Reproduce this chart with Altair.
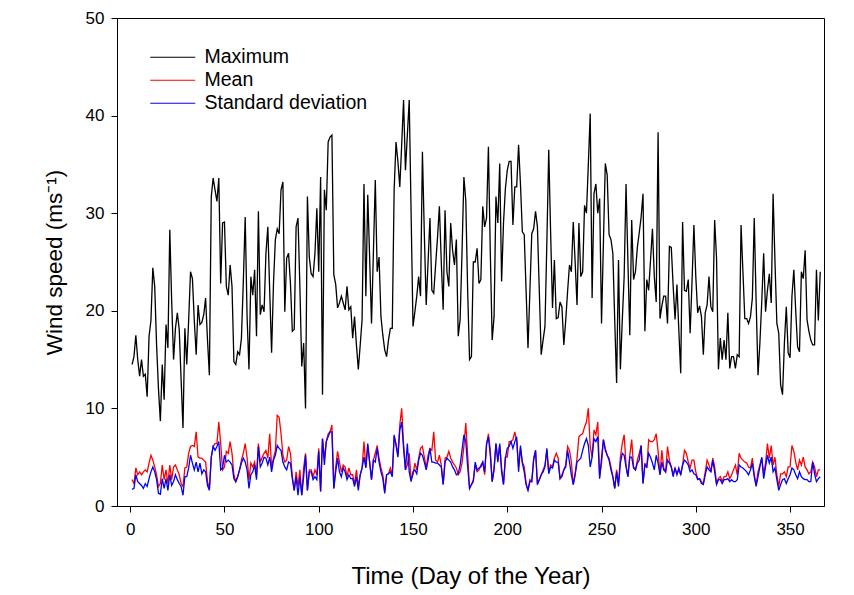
import altair as alt
import pandas as pd

days = list(range(1, 367))

maximum = [
    14.5, 15.3, 17.5, 15.0, 13.3, 15.0, 13.3, 13.5, 11.2, 17.4,
    19.0, 24.4, 22.5, 16.5, 12.0, 8.7, 14.5, 10.9, 18.6, 16.2,
    28.3, 21.0, 15.0, 18.2, 19.8, 18.1, 13.0, 8.0, 18.2, 14.5,
    19.0, 24.0, 23.3, 19.0, 15.5, 20.6, 18.6, 18.8, 19.6, 21.3,
    17.0, 13.4, 31.7, 33.6, 32.4, 31.2, 33.6, 22.8, 29.0, 29.1,
    22.5, 21.6, 24.7, 22.5, 14.8, 14.5, 15.8, 15.5, 17.2, 23.0,
    29.6, 19.4, 14.0, 23.5, 21.6, 24.2, 17.4, 30.2, 19.6, 20.6,
    19.9, 25.9, 28.6, 22.0, 15.7, 22.8, 27.3, 28.4, 27.9, 32.4,
    33.2, 19.9, 25.4, 25.9, 22.8, 17.9, 18.1, 28.6, 29.5, 22.5,
    14.3, 16.7, 10.0, 31.7, 25.5, 23.8, 23.5, 25.9, 30.5, 24.0,
    33.7, 11.4, 32.4, 30.3, 37.3, 37.8, 38.0, 23.7, 22.7, 20.3,
    20.8, 21.5, 20.8, 20.1, 22.5, 20.1, 20.4, 17.2, 19.4, 16.5,
    14.0, 16.5, 19.1, 33.0, 21.5, 31.9, 25.5, 18.7, 26.0, 33.4,
    24.0, 25.5, 19.4, 17.5, 16.0, 15.3, 17.0, 18.2, 18.2, 32.4,
    37.3, 35.3, 32.7, 37.0, 41.6, 34.4, 38.0, 41.6, 30.0, 18.4,
    19.9, 21.5, 23.5, 21.5, 36.3, 28.0, 20.6, 25.0, 29.5, 22.1,
    21.8, 24.7, 27.5, 30.7, 25.0, 20.1, 30.3, 24.0, 22.5, 29.0,
    26.2, 24.7, 27.3, 17.4, 19.1, 26.0, 33.7, 31.3, 22.0, 15.0,
    15.3, 25.0, 25.0, 26.4, 22.8, 23.2, 30.7, 28.6, 29.5, 36.8,
    26.0, 17.0, 19.4, 31.7, 29.0, 35.1, 23.0, 29.0, 32.5, 34.4,
    35.3, 35.3, 28.8, 32.7, 32.7, 37.0, 33.0, 28.1, 27.8, 22.0,
    16.2, 22.0, 27.9, 28.4, 30.2, 28.6, 22.0, 15.5, 17.0, 18.4,
    27.0, 36.5, 28.0, 20.3, 25.2, 19.2, 19.3, 20.9, 20.4, 16.5,
    19.0, 22.0, 24.7, 24.0, 29.1, 25.0, 20.6, 29.0, 23.5, 24.0,
    30.8, 30.0, 35.0, 40.2, 21.3, 32.0, 33.0, 30.0, 31.5, 18.7,
    27.0, 35.1, 33.9, 27.8, 27.3, 25.9, 19.0, 12.6, 25.2, 14.0,
    19.0, 23.5, 33.0, 25.0, 17.5, 29.3, 23.2, 24.0, 26.5, 28.0,
    29.6, 32.0, 17.9, 23.2, 22.1, 25.2, 28.4, 23.5, 20.9, 38.3,
    19.2, 20.5, 21.5, 21.5, 18.7, 26.6, 26.5, 22.5, 19.1, 22.7,
    18.0, 13.6, 29.1, 22.1, 22.0, 23.2, 17.7, 23.0, 28.8, 23.5,
    19.8, 20.5, 19.4, 15.5, 19.8, 20.6, 23.5, 20.4, 19.9, 29.3,
    25.4, 14.0, 17.2, 15.0, 17.0, 15.0, 19.8, 14.1, 15.3, 15.3,
    14.1, 15.5, 15.3, 28.8, 24.0, 19.2, 19.2, 18.7, 19.4, 21.3,
    29.5, 21.0, 13.4, 16.7, 21.0, 25.9, 19.9, 22.1, 23.8, 20.8,
    32.0, 25.0, 18.7, 17.7, 12.4, 11.4, 16.7, 20.4, 15.7, 15.2,
    21.5, 24.2, 20.0, 16.3, 15.8, 24.0, 23.3, 26.2, 19.1, 17.9,
    17.0, 16.5, 16.5, 24.2, 19.0, 24.0,
]

mean = [
    2.7, 2.3, 3.9, 3.2, 3.5, 3.2, 3.5, 3.7, 3.5, 4.4,
    5.2, 4.7, 4.0, 3.2, 2.0, 2.3, 4.2, 2.7, 3.7, 2.3,
    4.2, 2.7, 4.0, 4.2, 3.7, 3.2, 2.3, 2.0, 3.9, 4.0,
    5.4, 6.1, 6.2, 6.1, 7.6, 5.0, 4.9, 4.9, 4.7, 4.5,
    2.5, 1.8, 5.0, 6.1, 6.4, 6.4, 8.6, 6.4, 3.7, 4.0,
    5.6, 5.4, 6.6, 5.4, 3.2, 2.5, 3.0, 3.7, 4.7, 5.4,
    6.4, 4.9, 2.7, 4.4, 4.0, 4.5, 3.2, 6.4, 4.5, 5.0,
    5.4, 5.7, 4.9, 7.4, 4.0, 4.9, 5.7, 9.3, 9.1, 7.4,
    5.2, 4.5, 4.7, 6.1, 5.4, 3.0, 1.6, 3.5, 2.0, 3.7,
    1.1, 3.9, 5.4, 1.6, 3.7, 3.7, 3.0, 3.7, 3.2, 5.9,
    1.5, 6.9, 4.9, 6.6, 7.4, 7.6, 8.3, 1.8, 4.0, 5.6,
    4.5, 3.5, 4.2, 4.0, 3.0, 3.9, 3.2, 3.2, 2.2, 3.7,
    2.0, 3.2, 3.9, 6.6, 4.0, 6.2, 4.5, 2.7, 4.7, 5.4,
    6.2, 4.9, 3.9, 3.2, 1.5, 3.2, 3.3, 3.9, 3.2, 7.1,
    6.4, 5.2, 8.3, 10.0, 6.4, 3.7, 4.2, 5.4, 2.7, 3.2,
    4.4, 3.7, 4.9, 5.9, 6.1, 5.0, 3.9, 5.2, 5.9, 5.7,
    7.6, 4.7, 4.5, 5.2, 4.2, 2.2, 4.9, 5.0, 5.6, 4.9,
    4.5, 4.2, 3.9, 3.2, 3.5, 4.4, 6.1, 8.5, 5.2, 1.8,
    2.2, 2.7, 4.2, 3.5, 3.7, 4.2, 4.5, 3.2, 6.2, 7.4,
    5.7, 2.5, 3.9, 6.4, 4.7, 6.2, 3.9, 2.2, 5.0, 5.0,
    6.6, 6.6, 6.8, 7.6, 6.6, 4.0, 5.9, 4.5, 4.0, 2.3,
    1.6, 2.7, 2.5, 4.9, 5.7, 2.3, 2.7, 3.2, 3.7, 4.2,
    5.7, 3.5, 4.2, 4.0, 4.9, 5.4, 4.9, 2.8, 3.2, 3.7,
    4.2, 6.1, 5.7, 4.5, 2.2, 3.3, 4.9, 7.1, 7.3, 7.4,
    8.1, 8.6, 10.0, 6.1, 5.0, 7.8, 7.3, 8.6, 3.0, 4.4,
    6.8, 5.9, 5.2, 4.9, 4.0, 3.0, 1.8, 3.7, 2.3, 5.0,
    6.4, 7.3, 4.2, 3.0, 5.2, 6.8, 4.0, 3.7, 4.7, 5.4,
    6.2, 2.3, 4.4, 3.9, 6.8, 6.6, 6.6, 6.8, 7.4, 5.6,
    3.2, 5.7, 3.9, 3.5, 6.1, 4.7, 4.0, 3.2, 3.9, 3.3,
    3.7, 3.2, 4.2, 5.7, 5.4, 4.5, 3.9, 4.7, 4.7, 3.5,
    2.8, 2.8, 2.5, 2.3, 3.5, 4.7, 4.2, 3.5, 4.9, 4.0,
    2.3, 2.8, 3.0, 2.5, 3.0, 3.0, 3.5, 2.8, 3.2, 3.7,
    4.2, 3.2, 5.4, 4.9, 4.7, 4.5, 4.4, 4.0, 3.9, 4.9,
    3.2, 2.2, 3.5, 4.2, 4.9, 3.3, 4.4, 6.4, 4.9, 6.2,
    4.2, 5.0, 3.2, 2.0, 3.3, 3.3, 3.5, 3.0, 4.0, 4.0,
    6.2, 5.6, 4.5, 3.7, 4.7, 4.2, 5.0, 4.0, 3.7, 3.3,
    3.5, 4.5, 4.0, 3.0, 3.7, 3.7,
]

std_dev = [
    1.7, 1.8, 3.2, 2.5, 2.3, 2.1, 1.8, 2.3, 2.0, 2.8,
    3.5, 4.0, 3.5, 2.7, 1.3, 1.2, 2.8, 1.8, 2.8, 1.6,
    3.2, 2.1, 2.5, 3.2, 2.7, 2.3, 2.0, 1.1, 3.0, 3.0,
    3.9, 5.2, 4.4, 3.7, 4.5, 3.5, 4.4, 3.3, 3.7, 3.5,
    2.1, 1.6, 5.0, 6.1, 5.7, 6.1, 6.6, 3.7, 3.9, 5.2,
    4.5, 4.7, 4.5, 4.2, 2.8, 2.5, 3.0, 3.7, 4.4, 4.9,
    4.5, 3.7, 1.8, 3.2, 3.5, 4.2, 2.7, 6.1, 4.0, 4.4,
    5.0, 4.9, 4.2, 5.0, 3.5, 4.7, 5.2, 6.2, 5.9, 5.7,
    4.5, 4.0, 3.7, 4.5, 4.4, 2.8, 1.6, 3.0, 1.1, 3.0,
    1.1, 3.0, 5.2, 1.6, 3.5, 3.5, 2.7, 3.0, 2.7, 5.6,
    1.5, 6.9, 4.2, 6.6, 7.1, 7.6, 7.6, 1.8, 3.5, 4.9,
    3.5, 3.0, 3.9, 3.5, 2.7, 3.2, 2.8, 2.8, 2.0, 3.0,
    1.6, 3.2, 3.9, 5.0, 3.9, 6.4, 4.5, 2.7, 4.7, 4.5,
    5.9, 4.5, 3.5, 2.8, 1.3, 3.2, 3.3, 3.5, 3.0, 7.3,
    6.2, 5.0, 7.8, 8.6, 5.9, 3.7, 6.4, 3.5, 2.5, 3.5,
    3.7, 3.3, 4.7, 5.4, 5.2, 4.5, 3.7, 4.7, 5.9, 4.5,
    4.5, 4.4, 4.4, 4.2, 4.0, 2.2, 4.5, 4.9, 4.7, 4.5,
    4.0, 3.7, 3.2, 3.3, 4.2, 5.7, 7.3, 6.6, 4.0, 1.8,
    2.2, 2.5, 4.5, 3.7, 3.9, 4.0, 4.5, 3.5, 6.4, 7.1,
    5.2, 2.5, 3.7, 6.4, 4.5, 6.4, 3.5, 2.2, 4.9, 5.9,
    6.1, 6.6, 5.9, 6.6, 7.1, 3.5, 6.2, 4.4, 3.5, 2.2,
    1.6, 2.5, 2.5, 4.7, 5.7, 2.2, 2.7, 3.2, 3.5, 4.0,
    5.9, 3.3, 4.0, 3.9, 4.7, 4.5, 4.5, 2.8, 3.0, 3.7,
    4.0, 5.7, 4.5, 3.2, 2.2, 3.2, 4.5, 4.7, 4.9, 5.7,
    6.4, 6.9, 6.2, 4.0, 5.0, 6.9, 6.6, 7.1, 2.8, 4.9,
    6.8, 5.7, 5.2, 4.7, 3.7, 3.0, 1.8, 3.5, 2.0, 4.4,
    5.4, 5.2, 4.0, 3.0, 5.0, 5.0, 3.9, 3.7, 4.4, 4.7,
    6.2, 2.3, 4.2, 4.0, 5.4, 5.0, 4.4, 3.7, 5.2, 4.4,
    3.2, 4.5, 3.7, 3.5, 4.7, 4.4, 4.0, 3.0, 3.9, 3.2,
    3.9, 3.2, 4.2, 4.7, 4.5, 4.2, 3.5, 3.7, 3.3, 3.2,
    2.7, 2.8, 2.3, 2.2, 3.2, 4.0, 3.7, 3.5, 4.7, 3.5,
    2.2, 2.7, 2.7, 2.3, 2.7, 2.7, 2.8, 2.5, 2.7, 2.5,
    2.5, 2.7, 4.2, 4.0, 3.9, 3.7, 3.5, 3.2, 3.7, 4.4,
    3.0, 2.0, 3.0, 4.0, 5.0, 2.8, 4.0, 5.2, 4.4, 5.0,
    3.5, 3.9, 2.7, 1.6, 2.2, 2.7, 2.8, 2.3, 2.8, 3.2,
    3.9, 3.7, 3.2, 2.8, 3.5, 3.0, 2.8, 2.7, 2.7, 2.5,
    2.5, 4.5, 3.3, 2.5, 2.8, 3.0,
]

series_names = ["Maximum", "Mean", "Standard deviation"]
series_colors = ["#000000", "#ff0000", "#0000ff"]

rows = []
for name, vals in zip(series_names, [maximum, mean, std_dev]):
    for d, v in zip(days, vals):
        rows.append({"day": d, "value": v, "series": name})
df = pd.DataFrame(rows)

FONT = "Liberation Sans"

chart = (
    alt.Chart(df)
    .mark_line(strokeWidth=1.3)
    .encode(
        x=alt.X(
            "day:Q",
            scale=alt.Scale(domain=[-7, 368], nice=False, zero=False),
            axis=alt.Axis(
                values=[0, 50, 100, 150, 200, 250, 300, 350],
                title="Time (Day of the Year)",
                titleFontSize=24,
                titlePadding=27,
                labelPadding=9,
            ),
        ),
        y=alt.Y(
            "value:Q",
            scale=alt.Scale(domain=[0, 50], nice=False),
            axis=alt.Axis(
                values=[0, 10, 20, 30, 40, 50],
                title="Wind speed (ms⁻¹)",
                titleFontSize=22.5,
                titlePadding=19,
                labelPadding=7,
            ),
        ),
        color=alt.Color(
            "series:N",
            scale=alt.Scale(domain=series_names, range=series_colors),
            legend=alt.Legend(
                title=None,
                orient="none",
                legendX=31,
                legendY=29.5,
                symbolType="M-1,0H5",
                symbolSize=225,
                symbolStrokeWidth=1.2,
                labelFontSize=19.5,
                labelFont=FONT,
                labelOffset=37,
                labelLimit=400,
                rowPadding=2,
                padding=0,
            ),
        ),
        order=alt.Order("day:Q"),
    )
    .properties(
        width=707,
        height=488,
        autosize=alt.AutoSizeParams(type="none"),
        padding={"left": 109, "top": 10, "right": 22, "bottom": 86},
    )
    .configure_view(stroke="black", strokeWidth=1)
    .configure_axis(
        grid=False,
        domainColor="black",
        tickColor="black",
        labelColor="black",
        titleColor="black",
        labelFont=FONT,
        titleFont=FONT,
        labelFontSize=17,
        titleFontWeight="normal",
        tickSize=6,
    )
)

chart.save("out.html", embed_options={"renderer": "svg", "actions": False})
